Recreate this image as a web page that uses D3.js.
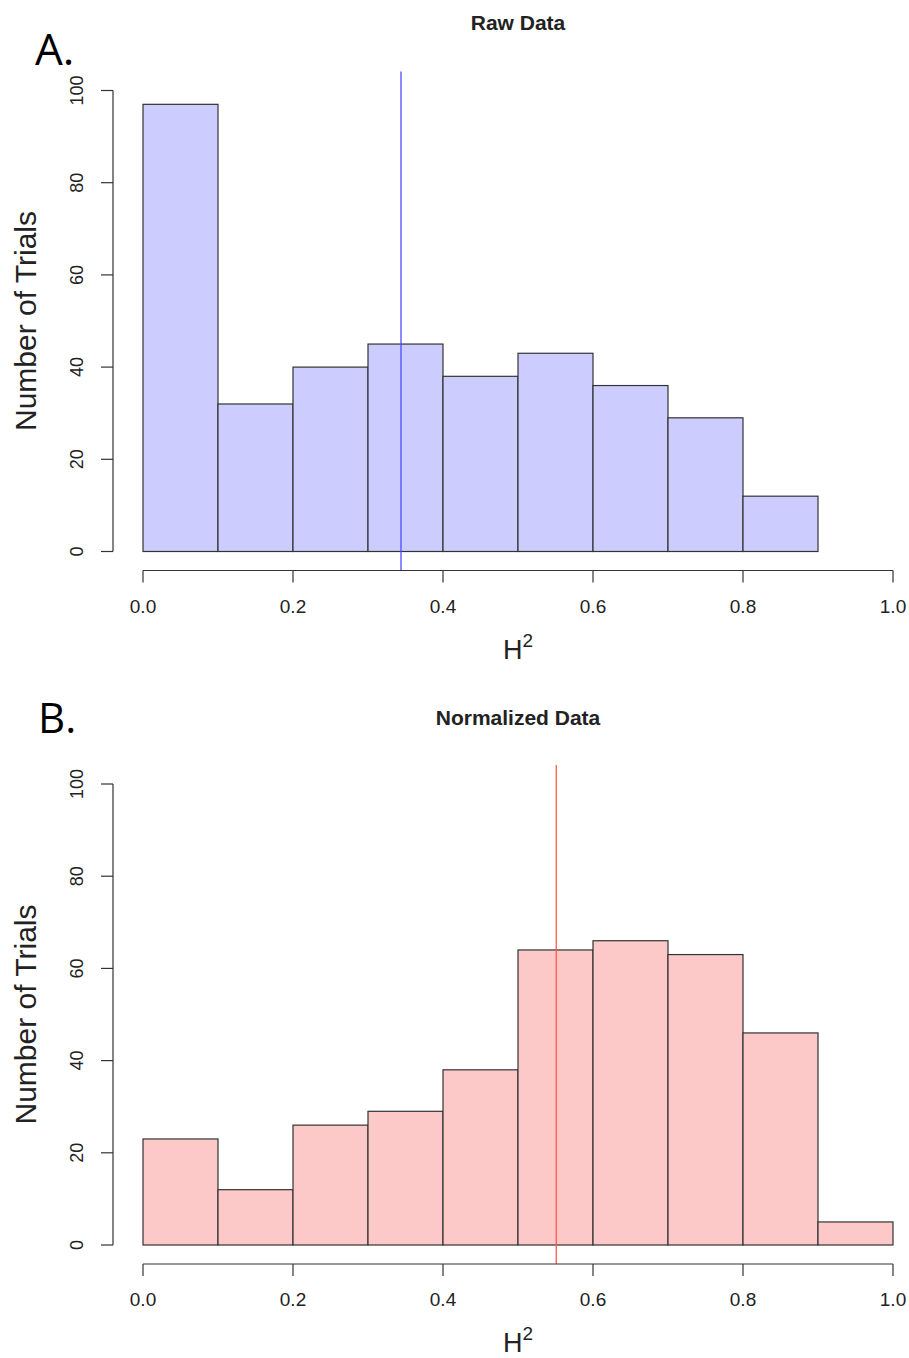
<!DOCTYPE html>
<html>
<head>
<meta charset="utf-8">
<script src="https://cdn.jsdelivr.net/npm/d3@7"></script>
<style>
  body { margin: 0; background: #fff; }
  svg text { font-family: "Liberation Sans", Arial, sans-serif; fill: #222; }
</style>
</head>
<body>
<svg id="chart" width="909" height="1358"></svg>
<script>
// Histogram bins (lower edges) and counts
const binEdges = [0.0, 0.1, 0.2, 0.3, 0.4, 0.5, 0.6, 0.7, 0.8, 0.9];
const rawCounts = [97, 32, 40, 45, 38, 43, 36, 29, 12];
const normCounts = [23, 12, 26, 29, 38, 64, 66, 63, 46, 5];
const rawMean = 0.344;
const normMean = 0.551;
const xTicks = [0, 0.2, 0.4, 0.6, 0.8, 1.0];
const yTicks = [0, 20, 40, 60, 80, 100];

const svg = d3.select('#chart');

function drawPanel(opts) {
    const g = svg.append('g');
    const x = d3.scaleLinear().domain([0, 1]).range([143, 893]);
    const y = d3.scaleLinear().domain([0, 100]).range([opts.y0, opts.y0 - 461]);

    // bars
    g.selectAll('rect.bar')
        .data(opts.counts)
        .enter().append('rect')
        .attr('x', (d, i) => x(binEdges[i]))
        .attr('y', d => y(d))
        .attr('width', (d, i) => x(binEdges[i] + 0.1) - x(binEdges[i]))
        .attr('height', d => y(0) - y(d))
        .style('fill', opts.fill)
        .style('stroke', '#333')
        .style('stroke-width', 1.2);

    // mean line
    g.append('line')
        .attr('x1', x(opts.mean)).attr('x2', x(opts.mean))
        .attr('y1', y(0) - 480).attr('y2', y(0) + 19)
        .style('stroke', opts.lineColor)
        .style('stroke-width', 1.3);

    // y axis
    const yAxis = g.append('g');
    yAxis.append('line')
        .attr('x1', 113).attr('x2', 113)
        .attr('y1', y(0)).attr('y2', y(100))
        .style('stroke', '#333').style('stroke-width', 1.2);
    yTicks.forEach(t => {
        yAxis.append('line')
            .attr('x1', 101).attr('x2', 113)
            .attr('y1', y(t)).attr('y2', y(t))
            .style('stroke', '#333').style('stroke-width', 1.2);
        yAxis.append('text')
            .attr('transform', `translate(83,${y(t)}) rotate(-90)`)
            .attr('text-anchor', 'middle')
            .style('font-size', '18px')
            .text(t);
    });

    // x axis
    const xa = y(0) + 19;
    const xAxis = g.append('g');
    xAxis.append('line')
        .attr('x1', x(0)).attr('x2', x(1))
        .attr('y1', xa).attr('y2', xa)
        .style('stroke', '#333').style('stroke-width', 1.2);
    xTicks.forEach(t => {
        xAxis.append('line')
            .attr('x1', x(t)).attr('x2', x(t))
            .attr('y1', xa).attr('y2', xa + 12)
            .style('stroke', '#333').style('stroke-width', 1.2);
        xAxis.append('text')
            .attr('x', x(t)).attr('y', xa + 42)
            .attr('text-anchor', 'middle')
            .style('font-size', '19px')
            .text(t.toFixed(1));
    });

    // x label H^2
    const hl = g.append('text')
        .attr('x', 518).attr('y', xa + 88)
        .attr('text-anchor', 'middle')
        .style('font-size', '27px');
    hl.append('tspan').text('H');
    hl.append('tspan').attr('dy', -12).style('font-size', '19px').text('2');

    // y label
    g.append('text')
        .attr('transform', `translate(36,${y(50)}) rotate(-90)`)
        .attr('text-anchor', 'middle')
        .style('font-size', '30px')
        .text('Number of Trials');

    // title
    g.append('text')
        .attr('x', 518).attr('y', opts.titleY)
        .attr('text-anchor', 'middle')
        .style('font-size', '21px')
        .style('font-weight', 'bold')
        .text(opts.title);

    // panel letter
    g.append('text')
        .attr('x', opts.letterX).attr('y', opts.letterY)
        .style('font-family', '"Open Sans", "Liberation Sans", sans-serif')
        .style('font-size', opts.letterSize)
        .style('fill', '#000')
        .text(opts.letter);
}

drawPanel({
    y0: 551.5, counts: rawCounts, mean: rawMean,
    fill: '#ccccff', lineColor: '#4d4dff',
    title: 'Raw Data', titleY: 30,
    letter: 'A.', letterX: 35, letterY: 65, letterSize: '44px'
});

drawPanel({
    y0: 1245, counts: normCounts, mean: normMean,
    fill: '#fcc8c8', lineColor: '#ff5a4a',
    title: 'Normalized Data', titleY: 725,
    letter: 'B.', letterX: 38, letterY: 733, letterSize: '42px'
});
</script>
</body>
</html>
